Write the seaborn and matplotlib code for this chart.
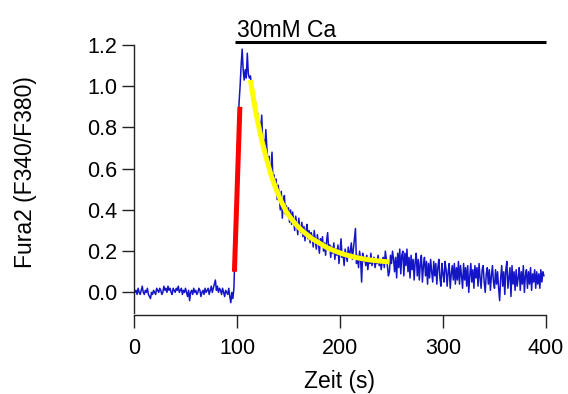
import numpy as np
import pandas as pd
import matplotlib
matplotlib.use("Agg")
import matplotlib.pyplot as plt
import seaborn as sns

# ---- data ----
ratio = [
    # t = 0..19
    0.02, 0.00, 0.01, -0.01, 0.02, 0.00, -0.01, 0.01, 0.03, 0.00, -0.01, 0.01, 0.00, 0.02, -0.01, -0.02, -0.03, 0.00, -0.01, 0.01,
    # t = 20..39
    0.00, -0.01, 0.02, 0.01, 0.00, 0.02, 0.01, -0.01, 0.00, 0.03, 0.01, 0.02, 0.00, 0.03, 0.01, 0.02, 0.00, -0.01, 0.02, 0.01,
    # t = 40..59
    0.00, 0.02, 0.01, 0.03, 0.00, 0.01, 0.02, -0.01, 0.01, 0.00, 0.02, 0.00, -0.02, 0.01, -0.04, 0.00, 0.01, -0.01, 0.02, 0.00,
    # t = 60..79
    0.01, -0.01, 0.00, 0.02, 0.01, -0.02, 0.00, 0.01, -0.01, 0.02, 0.00, 0.01, 0.02, -0.01, 0.01, 0.03, 0.00, 0.02, 0.04, 0.06,
    # t = 80..97
    0.01, 0.03, 0.00, 0.02, 0.01, -0.01, 0.02, 0.00, -0.02, 0.01, 0.00, -0.01, 0.02, -0.02, -0.05, 0.00, -0.03, 0.02,
    # t = 98..112 (rise and peak)
    0.20, 0.40, 0.60, 0.78, 0.92, 1.00, 1.10, 1.18, 1.08, 1.03, 1.08, 1.04, 1.16, 1.06, 1.04,
    # t = 113..132
    1.05, 1.01, 0.93, 0.97, 0.90, 0.92, 0.84, 0.87, 0.80, 0.83, 0.77, 0.86, 0.72, 0.74, 0.69, 0.79, 0.70, 0.63, 0.66, 0.57,
    # t = 133..152
    0.60, 0.68, 0.52, 0.57, 0.50, 0.55, 0.45, 0.52, 0.47, 0.40, 0.49, 0.36, 0.44, 0.47, 0.38, 0.42, 0.37, 0.41, 0.34, 0.40,
    # t = 153..172
    0.33, 0.39, 0.35, 0.30, 0.37, 0.33, 0.28, 0.36, 0.31, 0.29, 0.34, 0.27, 0.32, 0.25, 0.30, 0.33, 0.26, 0.30, 0.24, 0.29,
    # t = 173..192
    0.27, 0.22, 0.30, 0.25, 0.21, 0.28, 0.24, 0.19, 0.26, 0.23, 0.27, 0.20, 0.24, 0.18, 0.25, 0.29, 0.21, 0.23, 0.17, 0.22,
    # t = 193..212
    0.19, 0.24, 0.16, 0.21, 0.18, 0.23, 0.14, 0.20, 0.26, 0.17, 0.19, 0.13, 0.21, 0.18, 0.15, 0.22, 0.17, 0.20, 0.24, 0.16,
    # t = 213..232
    0.21, 0.26, 0.31, 0.14, 0.18, 0.12, 0.20, 0.16, 0.05, 0.19, 0.15, 0.17, 0.13, 0.18, 0.11, 0.16, 0.14, 0.19, 0.13, 0.15,
    # t = 233..252
    0.17, 0.12, 0.15, 0.14, 0.18, 0.13, 0.16, 0.11, 0.15, 0.17, 0.12, 0.20, 0.16, 0.13, 0.08, 0.10, 0.18, 0.14, 0.20, 0.16,
    # t = 253..272
    0.10, 0.17, 0.07, 0.19, 0.12, 0.21, 0.09, 0.18, 0.20, 0.08, 0.19, 0.13, 0.21, 0.10, 0.17, 0.07, 0.18, 0.11, 0.16, 0.06,
    # t = 273..292
    0.15, 0.19, 0.08, 0.16, 0.06, 0.14, 0.18, 0.05, 0.13, 0.17, 0.08, 0.15, 0.04, 0.14, 0.07, 0.16, 0.10, 0.05, 0.15, 0.08,
    # t = 293..312
    0.14, 0.04, 0.12, 0.16, 0.07, 0.03, 0.14, 0.09, 0.05, 0.15, 0.11, 0.03, 0.10, 0.14, 0.02, 0.09, 0.13, 0.06, 0.14, 0.04,
    # t = 313..332
    0.12, 0.06, 0.15, 0.04, 0.13, 0.08, 0.02, 0.14, 0.06, 0.12, 0.03, 0.13, 0.00, 0.08, 0.14, 0.05, 0.11, 0.02, 0.13, 0.07,
    # t = 333..352
    0.12, 0.03, 0.14, 0.07, 0.02, 0.11, 0.13, 0.05, 0.00, 0.09, 0.12, 0.04, 0.11, 0.01, 0.08, 0.13, 0.05, 0.02, 0.11, 0.04,
    # t = 353..372
    0.10, 0.02, -0.04, 0.07, 0.13, 0.03, 0.10, -0.01, 0.11, 0.15, 0.02, 0.07, 0.12, -0.02, 0.13, 0.04, 0.10, 0.01, 0.11, 0.03,
    # t = 373..398
    0.07, 0.12, 0.01, 0.10, 0.04, 0.13, 0.00, 0.08, 0.11, 0.02, 0.10, 0.04, 0.12, 0.01, 0.09, 0.05, 0.11, 0.02, 0.10, 0.04,
    0.09, 0.02, 0.11, 0.05, 0.10, 0.08,
]
sample_step = 1.0  # s per sample
time_s = np.arange(len(ratio)) * sample_step

# linear fit of the rise (red)
rise_t = [97.5, 102.8]
rise_y = [0.10, 0.90]

# exponential decay fit (yellow)
fit_t = [113, 118, 123, 128, 133, 138, 143, 148, 153, 158, 163, 168, 173, 178,
         183, 188, 193, 198, 203, 208, 213, 218, 223, 228, 233, 238, 243, 248]
fit_y = [1.03, 0.88, 0.76, 0.66, 0.57, 0.50, 0.44, 0.39, 0.355, 0.325, 0.30, 0.28,
         0.26, 0.245, 0.23, 0.215, 0.205, 0.195, 0.186, 0.179, 0.172, 0.167,
         0.162, 0.158, 0.155, 0.152, 0.150, 0.148]

stim_t = [98, 400]
stim_label = "30mM Ca"

x_ticks = [0, 100, 200, 300, 400]
y_ticks = [0.0, 0.2, 0.4, 0.6, 0.8, 1.0, 1.2]

# ---- style ----
sns.set_style("ticks")
plt.rcParams["font.family"] = ["Liberation Sans", "DejaVu Sans"]

fig = plt.figure(figsize=(5.68, 3.94), dpi=100)
ax = fig.add_axes([134 / 568, 1 - 313 / 394, 412 / 568, 268 / 394])

trace = pd.DataFrame({"t": time_s, "r": ratio})
sns.lineplot(data=trace, x="t", y="r", ax=ax, color="#1414c8", lw=1.1,
             estimator=None, sort=False)
sns.lineplot(x=rise_t, y=rise_y, ax=ax, color="#ff0000", lw=3.6,
             estimator=None, sort=False, solid_capstyle="butt")
sns.lineplot(x=fit_t, y=fit_y, ax=ax, color="#ffff00", lw=3.6,
             estimator=None, sort=False, solid_capstyle="butt")

# stimulus bar
ax.plot(stim_t, [1.215, 1.215], color="black", lw=2.2, clip_on=False,
        solid_capstyle="butt")
ax.text(100, 1.239, stim_label, fontsize=16.5, ha="left", va="baseline",
        color="black", clip_on=False)

ax.set_xlim(0, 400)
ax.set_ylim(-0.1, 1.2)
ax.set_xticks(x_ticks)
ax.set_yticks(y_ticks)
ax.set_xticklabels([str(v) for v in x_ticks])
ax.set_yticklabels([f"{v:.1f}" for v in y_ticks])

for s in ["top", "right"]:
    ax.spines[s].set_visible(False)
ax.spines["left"].set_bounds(-0.1, 1.2)
ax.spines["bottom"].set_bounds(0, 400)
ax.spines["bottom"].set_position(("outward", 1.5))
for s in ["left", "bottom"]:
    ax.spines[s].set_color("#222222")
    ax.spines[s].set_linewidth(1.0)

ax.tick_params(axis="y", direction="out", length=9, width=1.0,
               color="#222222", labelsize=15.5, pad=3, labelcolor="black")
ax.tick_params(axis="x", direction="out", length=9.5, width=1.0,
               color="#222222", labelsize=15.5, pad=7, labelcolor="black")

ax.set_xlabel("Zeit (s)", fontsize=16.5, color="black")
ax.set_ylabel("Fura2 (F340/F380)", fontsize=16.5, color="black")
ax.xaxis.set_label_coords(0.5, -0.214)
ax.yaxis.set_label_coords(-0.235, 0.526)

fig.savefig("out.png", dpi=100)
